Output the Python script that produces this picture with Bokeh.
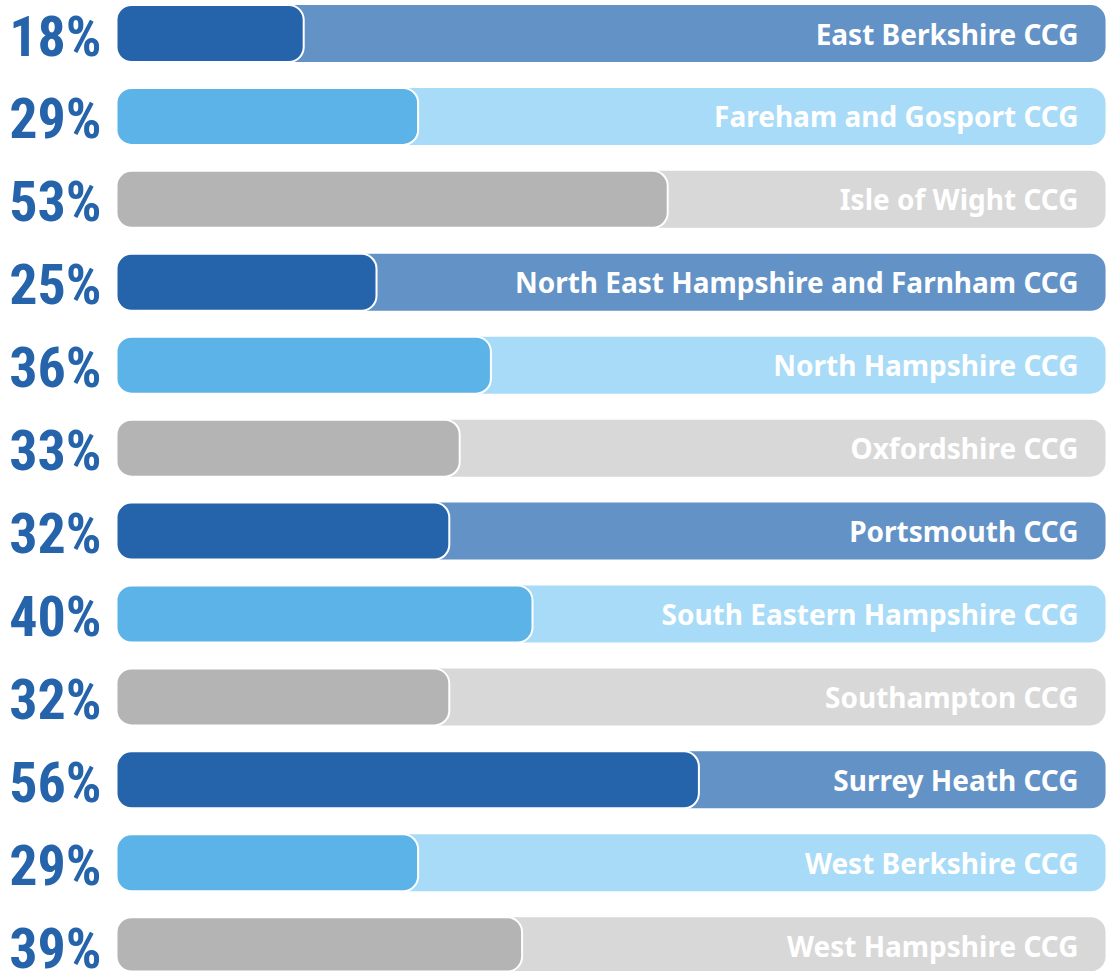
from bokeh.plotting import figure
from bokeh.models import Range1d, ColumnDataSource
from bokeh.core.properties import value
from bokeh.embed import file_html
from bokeh.resources import INLINE

categories = [
    "East Berkshire CCG",
    "Fareham and Gosport CCG",
    "Isle of Wight CCG",
    "North East Hampshire and Farnham CCG",
    "North Hampshire CCG",
    "Oxfordshire CCG",
    "Portsmouth CCG",
    "South Eastern Hampshire CCG",
    "Southampton CCG",
    "Surrey Heath CCG",
    "West Berkshire CCG",
    "West Hampshire CCG",
]
values = [18, 29, 53, 25, 36, 33, 32, 40, 32, 56, 29, 39]
pct_labels = [f"{v}%" for v in values]

fg_palette = ["#2563AB", "#5CB3E7", "#B4B4B4"]
bg_palette = ["#6392C6", "#A8DBF7", "#D8D8D8"]

n = len(categories)
rows = list(range(n))
fg_colors = [fg_palette[i % 3] for i in rows]
bg_colors = [bg_palette[i % 3] for i in rows]

BG_MAX = 95.1
PX_PER_UNIT = 10.4
ROW_PX = 82.93

src = ColumnDataSource(dict(
    y=rows, v=values, cat=categories, pct=pct_labels,
    fg=fg_colors, bg=bg_colors,
    bgmax=[BG_MAX] * n,
    lblx=[(1078 - 116) / PX_PER_UNIT] * n,
    pctx=[(101 - 116) / PX_PER_UNIT] * n,
    pcty=[r + 3 / ROW_PX for r in rows],
    caty=[r + 0 / ROW_PX for r in rows],
))

W, H = 1110, 971
x0 = -116 / PX_PER_UNIT
x1 = (W - 116) / PX_PER_UNIT
ytop = -33 / ROW_PX
ybot = (H - 33) / ROW_PX

p = figure(width=W, height=H, output_backend="svg", toolbar_location=None,
           x_range=Range1d(x0, x1), y_range=Range1d(ybot, ytop),
           min_border=0, min_border_left=0, min_border_right=0,
           min_border_top=0, min_border_bottom=0)
p.axis.visible = False
p.grid.visible = False
p.outline_line_color = None
p.background_fill_color = "white"
p.border_fill_color = "white"

bar_h = 57 / ROW_PX
p.hbar(y="y", left=0, right="bgmax", height=bar_h, fill_color="bg",
       line_color=None, border_radius=15, source=src)
p.hbar(y="y", left=0, right="v", height=bar_h, fill_color="fg",
       line_color="white", line_width=2, border_radius=15, source=src)

p.text(x="lblx", y="caty", text="cat", source=src, text_color="white",
       text_font=value("Noto Sans"), text_font_style="bold",
       text_font_size="28px", text_align="right", text_baseline="middle")

p.text(x="pctx", y="pcty", text="pct", source=src, text_color="#2563AB",
       text_font=value("Roboto Condensed"), text_font_style="bold",
       text_font_size="56px", text_align="right", text_baseline="middle")

open("out.html", "w").write(file_html(p, INLINE))
